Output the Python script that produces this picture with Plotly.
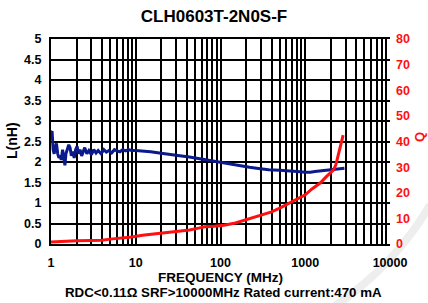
import plotly.graph_objects as go

# ---- data ----
freq_L = [1.00, 1.03, 1.06, 1.09, 1.12, 1.16, 1.20, 1.24, 1.28, 1.32, 1.37, 1.42, 1.46, 1.50,
          1.56, 1.62, 1.68, 1.74, 1.80, 1.88, 1.95, 2.03, 2.12, 2.2, 2.3, 2.4, 2.5, 2.65, 2.8,
          3.0, 3.2, 3.4, 3.6, 3.9, 4.2, 4.5, 4.8, 5.2, 5.6, 6.0, 6.5, 7.0, 7.6, 8.2, 9.0, 10,
          12, 15, 19, 25, 33, 43, 55, 70, 85, 100, 130, 170, 220, 280, 370, 500, 650, 800,
          1000, 1150, 1300, 1600, 2000, 2400, 2900]
inductance = [2.72, 2.75, 2.30, 2.20, 2.35, 2.45, 2.20, 2.10, 2.15, 2.05, 2.30, 2.00, 1.92, 2.20,
              2.35, 2.42, 2.35, 2.15, 2.25, 2.10, 2.30, 2.38, 2.20, 2.30, 2.15, 2.25, 2.35, 2.20, 2.28,
              2.18, 2.30, 2.22, 2.28, 2.20, 2.30, 2.24, 2.28, 2.22, 2.30, 2.27, 2.25, 2.30, 2.27, 2.30, 2.28, 2.28,
              2.27, 2.25, 2.22, 2.18, 2.15, 2.12, 2.08, 2.04, 2.01, 1.98, 1.94, 1.90, 1.87, 1.84, 1.81, 1.80, 1.79, 1.77,
              1.75, 1.75, 1.77, 1.79, 1.80, 1.82, 1.85]

freq_Q = [1, 1.5, 2, 3, 4, 5, 7, 9, 12, 16, 20, 25, 32, 43, 55, 65, 85, 110, 150, 220, 310,
          400, 500, 650, 870, 1000, 1200, 1500, 1800, 2000, 2150, 2300, 2450, 2600, 2800]
q_values = [0.8, 1.2, 1.3, 1.4, 1.5, 1.9, 2.3, 2.7, 3.4, 3.9, 4.2, 4.5, 5.0, 5.5, 6.2, 6.7, 6.9, 7.3, 8.2, 9.8, 11.3,
            12.5, 14.0, 16.0, 18.0, 19.2, 21.5, 23.8, 26.5, 28.0, 28.8, 31.0, 35.0, 38.5, 42.5]

x_major = [1, 10, 100, 1000, 10000]
x_gridvals = [m * d for d in [1, 10, 100, 1000] for m in range(1, 10)] + [10000]
x_ticktext = [str(v) if v in x_major else "" for v in x_gridvals]
l_ticks = [0, 0.5, 1, 1.5, 2, 2.5, 3, 3.5, 4, 4.5, 5]
l_ticktext = ["0", "0.5", "1", "1.5", "2", "2.5", "3", "3.5", "4", "4.5", "5"]
q_ticks = [0, 10, 20, 30, 40, 50, 60, 70, 80]

title_text = "CLH0603T-2N0S-F"
note_text = "RDC<0.11Ω SRF>10000MHz Rated current:470 mA"

FONT = "Liberation Sans, Arial, sans-serif"
RED = "#ff1010"

# plot area in pixels: x 51..390, y 39..244
W, H = 428, 303
L_, R_, T_, B_ = 51, 38, 39, 59
PW, PH = W - L_ - R_, H - T_ - B_


def px(x):
    return (x - L_) / PW


def py(y):
    return (H - B_ - y) / PH


fig = go.Figure()
fig.add_trace(go.Scatter(x=freq_L, y=inductance, mode="lines",
                         line=dict(color="#0a1a8c", width=3), yaxis="y", showlegend=False))
fig.add_trace(go.Scatter(x=freq_Q, y=q_values, mode="lines",
                         line=dict(color=RED, width=3), yaxis="y2", showlegend=False))

fig.update_layout(
    width=W, height=H,
    margin=dict(l=L_, r=R_, t=T_, b=B_, autoexpand=False),
    paper_bgcolor="white", plot_bgcolor="white",
    font=dict(family=FONT, color="black", size=12),
    title=dict(text=title_text, x=0.5, xanchor="center", y=1 - 16 / H, yanchor="middle",
               font=dict(family=FONT, size=17, weight="bold", color="black")),
    xaxis=dict(type="log", range=[0, 4], tickvals=x_gridvals, ticktext=x_ticktext,
               showgrid=True, gridcolor="black", gridwidth=2,
               showline=True, linecolor="black", linewidth=2, mirror=True,
               ticks="", tickfont=dict(family=FONT, size=12.5, weight="bold"),
               ticklabelstandoff=6,
               title=dict(text="FREQUENCY (MHz)", standoff=0,
                          font=dict(family=FONT, size=13.5, weight="bold")),
               zeroline=False),
    yaxis=dict(range=[0, 5], tickvals=l_ticks, ticktext=l_ticktext,
               showgrid=True, gridcolor="black", gridwidth=2,
               showline=True, linecolor="black", linewidth=2,
               ticks="", tickfont=dict(family=FONT, size=12.5, weight="bold"),
               ticklabelstandoff=5,
               zeroline=False),
    yaxis2=dict(range=[0, 80], tickvals=q_ticks, overlaying="y", side="right",
                showgrid=False, showline=False, ticks="",
                tickfont=dict(family=FONT, size=12.5, weight="bold", color=RED),
                ticklabelstandoff=5,
                zeroline=False),
    annotations=[
        dict(text=note_text, xref="paper", yref="paper",
             x=px(223), y=py(292), xanchor="center", yanchor="middle", showarrow=False,
             font=dict(family=FONT, size=13.3, weight="bold", color="black")),
        dict(text="L(nH)", xref="paper", yref="paper", textangle=-90,
             x=px(12), y=py(141), xanchor="center", yanchor="middle", showarrow=False,
             font=dict(family=FONT, size=14, weight="bold", color="black")),
        dict(text="Q", xref="paper", yref="paper", textangle=-90,
             x=px(419), y=py(137), xanchor="center", yanchor="middle", showarrow=False,
             font=dict(family=FONT, size=13, weight="bold", color=RED)),
    ],
    shapes=[dict(type="path", xref="paper", yref="paper", layer="below",
                 path=f"M {px(335)} {py(306)} Q {px(395)} {py(265)} {px(430)} {py(205)}",
                 line=dict(color="#eeeeee", width=8))],
)

fig.write_html("out.html", config={"displayModeBar": False},
               post_script="document.body.style.margin='0';document.body.style.padding='0';")
